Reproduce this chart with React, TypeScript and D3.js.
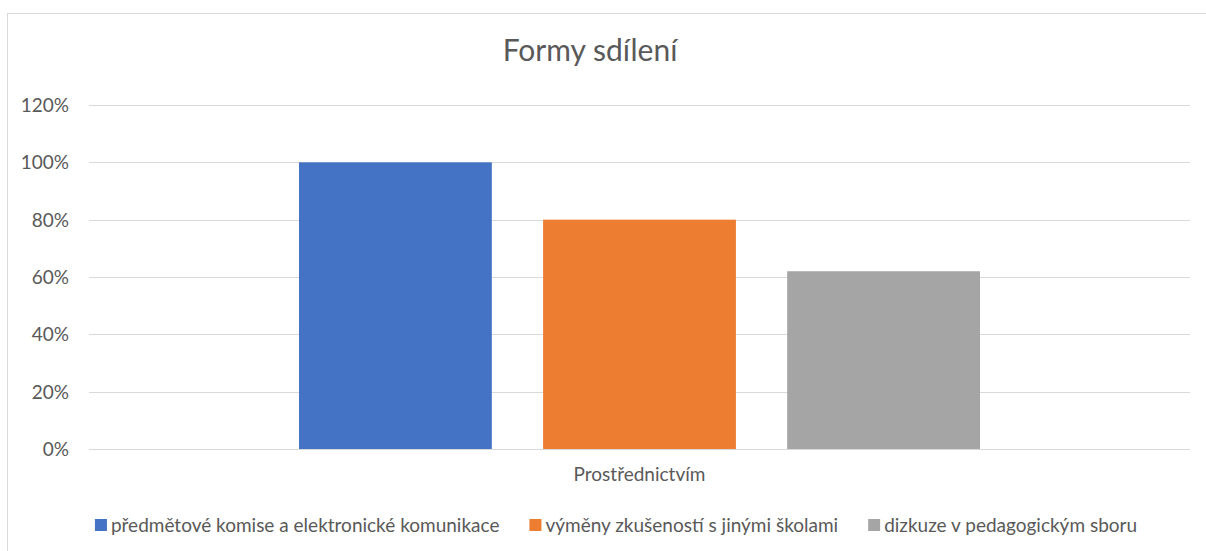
import React, { useRef, useEffect } from 'react';
import * as d3 from 'd3';

const title = 'Formy sdílení';
const category = 'Prostřednictvím';
const seriesNames = [
  'předmětové komise a elektronické komunikace',
  'výměny zkušeností s jinými školami',
  'dizkuze v pedagogickým sboru',
];
const seriesValues = [1.0, 0.8, 0.62];
const seriesColors = ['#4472C4', '#ED7D31', '#A5A5A5'];
const yTicks = [0, 0.2, 0.4, 0.6, 0.8, 1.0, 1.2];

const W = 1206;
const H = 551;
const FONT = 'Lato, "Open Sans", sans-serif';
const TEXT = '#595959';

const App = () => {
  const svgRef = useRef<SVGSVGElement>(null);

  useEffect(() => {
    const svg = d3.select(svgRef.current);
    svg.selectAll('*').remove();

    // chart area border (only left and top fall inside the frame)
    svg.append('rect')
      .attr('x', 7.5).attr('y', 13.5)
      .attr('width', W + 10).attr('height', H + 10)
      .attr('fill', 'white')
      .attr('stroke', '#D9D9D9')
      .attr('stroke-width', 1);

    const plot = { left: 89, right: 1190, top: 105, bottom: 449 };

    const y = d3.scaleLinear().domain([0, 1.2]).range([plot.bottom, plot.top]);
    const x0 = d3.scaleBand().domain([category]).range([plot.left, plot.right]);
    const x1 = d3.scaleBand().domain(seriesNames).range([299, 980]).paddingInner(0.21).paddingOuter(0);

    // gridlines
    svg.append('g')
      .selectAll('line')
      .data(yTicks)
      .join('line')
      .attr('x1', plot.left).attr('x2', plot.right)
      .attr('y1', d => Math.round(y(d)) + 0.5).attr('y2', d => Math.round(y(d)) + 0.5)
      .attr('stroke', '#D9D9D9').attr('stroke-width', 1);

    // y labels
    svg.append('g')
      .selectAll('text')
      .data(yTicks)
      .join('text')
      .attr('x', 69)
      .attr('y', d => y(d) + 7)
      .attr('text-anchor', 'end')
      .style('font-family', FONT)
      .style('font-size', '19px')
      .style('fill', TEXT)
      .text(d3.format('.0%'));

    // bars
    svg.append('g')
      .selectAll('rect')
      .data(seriesNames)
      .join('rect')
      .attr('x', d => x1(d)!)
      .attr('width', x1.bandwidth())
      .attr('y', (d, i) => y(seriesValues[i]))
      .attr('height', (d, i) => y(0) - y(seriesValues[i]))
      .attr('fill', (d, i) => seriesColors[i]);

    // baseline over bars
    svg.append('line')
      .attr('x1', plot.left).attr('x2', plot.right)
      .attr('y1', Math.round(y(0)) + 0.5).attr('y2', Math.round(y(0)) + 0.5)
      .attr('stroke', '#D9D9D9');

    // category label
    svg.append('text')
      .attr('x', x0(category)! + x0.bandwidth() / 2)
      .attr('y', 481)
      .attr('text-anchor', 'middle')
      .style('font-family', FONT)
      .style('font-size', '19px')
      .style('fill', TEXT)
      .text(category);

    // title
    svg.append('text')
      .attr('x', 590)
      .attr('y', 61)
      .attr('text-anchor', 'middle')
      .style('font-family', FONT)
      .style('font-size', '30px')
      .style('fill', TEXT)
      .text(title);

    // legend: laid out in a row, then centred
    const legend = svg.append('g');
    let cursor = 0;
    seriesNames.forEach((name, i) => {
      const item = legend.append('g').attr('transform', `translate(${cursor},0)`);
      item.append('rect')
        .attr('x', 0).attr('y', -6)
        .attr('width', 12).attr('height', 12)
        .attr('fill', seriesColors[i]);
      const t = item.append('text')
        .attr('x', 16)
        .attr('y', 7)
        .style('font-family', FONT)
        .style('font-size', '19px')
        .style('fill', TEXT)
        .text(name);
      const len = (t.node() as SVGTextElement).getComputedTextLength();
      cursor += 16 + len + 30;
    });
    const total = cursor - 30;
    legend.attr('transform', `translate(${616 - total / 2}, 525)`);
  }, []);

  return (
    <div style={{ position: 'fixed', left: 0, top: 0, width: W, height: H, background: 'white' }}>
      <svg ref={svgRef} width={W} height={H} style={{ display: 'block' }}></svg>
    </div>
  );
};

export default App;
